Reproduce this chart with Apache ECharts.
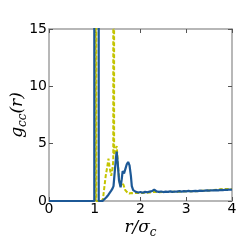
<!DOCTYPE html>
<html><head><meta charset="utf-8">
<script src="https://cdn.jsdelivr.net/npm/echarts@6/dist/echarts.min.js"></script>
<style>html,body{margin:0;padding:0;background:#fff}#c{width:245px;height:245px}</style>
</head><body><div id="c"></div>
<script>
// blue solid curve: r and g(r)
var blueR = [0, 0.99, 1.0, 1.043, 1.087, 1.17, 1.2, 1.25, 1.3, 1.33, 1.36, 1.39, 1.41, 1.44, 1.47, 1.48, 1.5, 1.53, 1.565, 1.59, 1.61, 1.64, 1.67, 1.7, 1.73, 1.76, 1.79, 1.81, 1.84, 1.87, 1.9, 1.95, 2.0, 2.05, 2.1, 2.15, 2.2, 2.25, 2.3, 2.35, 2.4, 2.45, 2.5, 2.55, 2.6, 2.65, 2.7, 2.75, 2.8, 2.85, 2.9, 2.95, 3.0, 3.05, 3.1, 3.15, 3.2, 3.25, 3.3, 3.35, 3.4, 3.45, 3.5, 3.55, 3.6, 3.65, 3.7, 3.75, 3.8, 3.85, 3.9, 3.95, 4.0];
var blueG = [0, 0, 0, 2000, 0, 0, 0.12, 0.3, 0.55, 0.7, 0.9, 1.1, 1.3, 2.7, 4.0, 4.3, 3.4, 1.8, 1.2, 1.9, 2.6, 2.4, 2.8, 3.2, 3.4, 3.1, 2.2, 1.3, 0.95, 0.78, 0.8, 0.74, 0.78, 0.72, 0.8, 0.76, 0.82, 0.86, 1.0, 0.84, 0.79, 0.83, 0.78, 0.82, 0.8, 0.84, 0.79, 0.83, 0.82, 0.86, 0.82, 0.86, 0.84, 0.88, 0.84, 0.86, 0.88, 0.86, 0.9, 0.88, 0.9, 0.93, 0.9, 0.94, 0.92, 0.95, 0.93, 0.97, 0.95, 0.98, 0.97, 1.0, 0.99];
// yellow dashed curve
var yellowR = [0, 1.02, 1.027, 1.034, 1.15, 1.18, 1.21, 1.24, 1.27, 1.3, 1.33, 1.36, 1.39, 1.405, 1.414, 1.423, 1.45, 1.48, 1.5, 1.53, 1.56, 1.6, 1.63, 1.66, 1.7, 1.75, 1.8, 1.85, 1.9, 2.0, 2.1, 2.2, 2.3, 2.4, 2.5, 2.6, 2.7, 2.8, 2.9, 3.0, 3.1, 3.2, 3.3, 3.4, 3.5, 3.6, 3.7, 3.8, 3.9, 4.0];
var yellowG = [0, 0, 2000, 0, 0, 0.2, 1.2, 2.2, 2.9, 3.7, 2.8, 2.2, 2.9, 3.5, 2000, 4.0, 4.4, 4.8, 3.6, 2.0, 1.3, 1.6, 1.4, 1.0, 0.8, 0.65, 0.7, 0.68, 0.7, 0.7, 0.72, 0.74, 0.8, 0.76, 0.78, 0.78, 0.8, 0.8, 0.82, 0.84, 0.85, 0.86, 0.88, 0.9, 0.92, 0.95, 1.0, 1.05, 1.04, 1.05];
var xTicks = [0, 1, 2, 3, 4];
var yTicks = [0, 5, 10, 15];

function pairs(a, b) { return a.map(function (v, i) { return [v, b[i]]; }); }

var chart = echarts.init(document.getElementById('c'), null, {renderer: 'canvas'});
var axisLine = {show: true, onZero: false, lineStyle: {color: '#a0a0a0', width: 1.5}};
var tick = {show: true, inside: true, length: 4, lineStyle: {color: '#555', width: 1}};
var lbl = {fontFamily: 'DejaVu Sans', fontSize: 14, color: '#000'};
var nameRich = {
  i: {fontFamily: 'DejaVu Serif', fontStyle: 'italic', fontSize: 17, lineHeight: 22, verticalAlign: 'middle', color: '#000'},
  s: {fontFamily: 'DejaVu Serif', fontStyle: 'italic', fontSize: 12, lineHeight: 22, verticalAlign: 'bottom', padding: [8, 0, 0, 0], color: '#000'}
};
chart.setOption({
  animation: false,
  grid: {left: 49, right: 13, top: 29, bottom: 44, containLabel: false, outerBoundsMode: 'none'},
  xAxis: [{
    type: 'value', min: xTicks[0], max: xTicks[xTicks.length - 1], interval: 1,
    axisLine: axisLine, axisTick: tick, splitLine: {show: false},
    axisLabel: Object.assign({margin: 1}, lbl),
    name: '{i|r/σ}{s|c}', nameLocation: 'middle', nameGap: 16, nameMoveOverlap: false,
    nameTextStyle: {rich: nameRich}
  }, {
    type: 'value', position: 'top', min: 0, max: 4, interval: 1,
    axisLine: axisLine, axisTick: tick, axisLabel: {show: false}, splitLine: {show: false}
  }],
  yAxis: [{
    type: 'value', min: yTicks[0], max: yTicks[yTicks.length - 1], interval: 5,
    axisLine: axisLine, axisTick: tick, splitLine: {show: false},
    axisLabel: Object.assign({margin: 2}, lbl),
    name: '{i|g}{s|cc}{i|(r)}', nameLocation: 'middle', nameGap: 20, nameRotate: 90, nameMoveOverlap: false,
    nameTextStyle: {rich: nameRich}
  }, {
    type: 'value', position: 'right', min: 0, max: 15, interval: 5,
    axisLine: axisLine, axisTick: tick, axisLabel: {show: false}, splitLine: {show: false}
  }],
  series: [{
    type: 'line', data: pairs(yellowR, yellowG), showSymbol: false, clip: true,
    lineStyle: {color: '#c4c400', width: 2, type: [4, 2]}, z: 2
  }, {
    type: 'line', data: pairs(blueR, blueG), showSymbol: false, clip: true,
    lineStyle: {color: '#1c5896', width: 2.2}, z: 3
  }]
});
</script></body></html>
